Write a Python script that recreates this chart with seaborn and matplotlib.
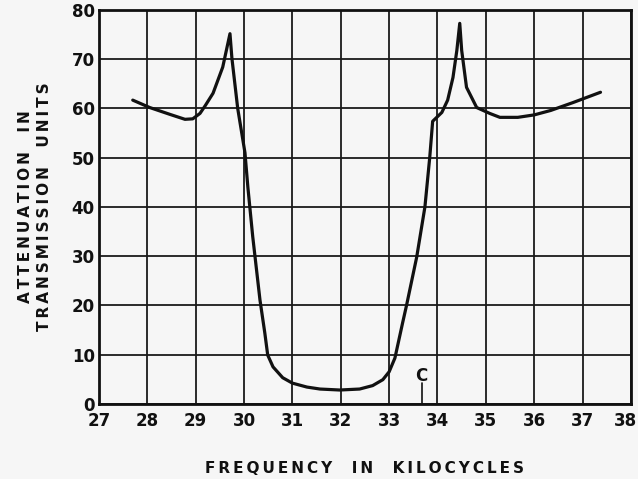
import matplotlib
matplotlib.use("Agg")
import matplotlib.pyplot as plt
import matplotlib.transforms as mtransforms
import seaborn as sns
import pandas as pd

# Attenuation curve of the band-pass filter, read point by point
freq_kc = [27.70, 28.05, 28.47, 28.78, 28.94, 29.09, 29.20, 29.36, 29.56, 29.71,
           29.75, 29.87, 30.02, 30.08, 30.18, 30.33, 30.43, 30.49, 30.60, 30.80,
           31.00, 31.30, 31.57, 31.98, 32.39, 32.66, 32.87, 33.00, 33.12, 33.28,
           33.36, 33.57, 33.74, 33.84, 33.90, 34.09, 34.21, 34.32, 34.40, 34.46,
           34.50, 34.60, 34.81, 35.08, 35.29, 35.66, 36.00, 36.34, 36.80, 37.37]
atten_tu = [61.7, 60.2, 58.8, 57.8, 57.9, 59.0, 60.6, 63.1, 68.4, 75.2,
            70.2, 60.0, 51.0, 44.0, 34.0, 21.1, 14.4, 9.9, 7.5, 5.3,
            4.2, 3.4, 3.0, 2.8, 3.0, 3.7, 4.9, 6.5, 9.3, 16.5,
            20.0, 29.8, 40.0, 50.1, 57.4, 59.2, 61.7, 66.3, 71.8, 77.3,
            71.8, 64.3, 60.2, 59.0, 58.2, 58.2, 58.7, 59.6, 61.2, 63.3]

x_ticks = list(range(27, 39))
y_ticks = list(range(0, 90, 10))

x_title = "FREQUENCY  IN  KILOCYCLES"
y_title = ["ATTENUATION  IN", "TRANSMISSION  UNITS"]

marker_freq = 33.67
marker_label = "C"


def spaced(text):
    """Open up letter spacing with thin spaces between characters."""
    return "\u2009".join(text)


df = pd.DataFrame({"freq": freq_kc, "atten": atten_tu})

sns.set_style("white")
plt.rcParams["font.family"] = ["DejaVu Sans"]
plt.rcParams["font.weight"] = "bold"

ink = "#111111"
bg = "#f6f6f6"
fig = plt.figure(figsize=(6.38, 4.79), dpi=100, facecolor=bg)
ax = fig.add_axes([0.155, 0.157, 0.834, 0.822])
ax.set_facecolor(bg)

sns.lineplot(data=df, x="freq", y="atten", sort=False, color=ink,
             linewidth=2.3, ax=ax, zorder=3)

ax.set_xlim(27, 38)
ax.set_ylim(0, 80)
ax.set_xticks(x_ticks)
ax.set_yticks(y_ticks)
ax.grid(True, color="#1a1a1a", linewidth=1.3)
ax.set_axisbelow(True)
for s in ax.spines.values():
    s.set_visible(True)
    s.set_color(ink)
    s.set_linewidth(2.0)

ax.tick_params(axis="both", length=0, labelsize=12, colors=ink)
ax.tick_params(axis="x", pad=6)
ax.tick_params(axis="y", pad=3)
xlabels = ax.get_xticklabels()
for lab in xlabels + ax.get_yticklabels():
    lab.set_fontweight("bold")
# nudge the last frequency label so it stays inside the figure edge
xlabels[-1].set_transform(xlabels[-1].get_transform() +
                          mtransforms.ScaledTranslation(-4 / 72, 0, fig.dpi_scale_trans))

ax.set_xlabel(spaced(x_title), fontsize=11, fontweight="bold",
              labelpad=22, color=ink)
ax.set_ylabel("\n".join(spaced(t) for t in y_title), fontsize=11,
              fontweight="bold", labelpad=14, color=ink, linespacing=1.35)

# Cut-off marker on the frequency axis
ax.plot([marker_freq, marker_freq], [0, 4.3], color=ink, linewidth=1.2)
ax.text(marker_freq, 5.7, marker_label, ha="center", va="center",
        fontsize=12, fontweight="bold", color=ink)

fig.savefig("out.png", dpi=100, facecolor=bg)
